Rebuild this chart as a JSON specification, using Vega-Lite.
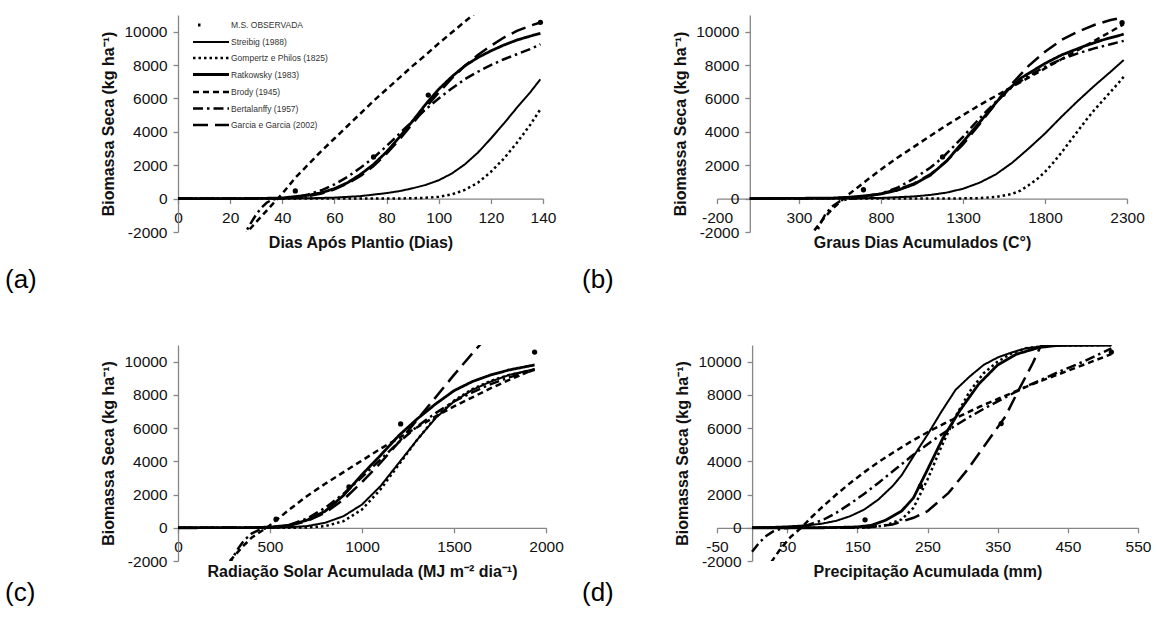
{
  "$schema": "https://vega.github.io/schema/vega-lite/v6.json",
  "padding": {"left": 5, "top": 15, "right": 0, "bottom": 0},
  "background": "white",
  "datasets": {
    "a": [
      {"s":"obs","x":45,"y":460},{"s":"obs","x":75,"y":2500},{"s":"obs","x":96,"y":6200},{"s":"obs","x":139,"y":10560},
      {"s":"str","x":0,"y":0},{"s":"str","x":40,"y":5},{"s":"str","x":50,"y":20},{"s":"str","x":60,"y":60},{"s":"str","x":70,"y":150},{"s":"str","x":80,"y":330},{"s":"str","x":85,"y":450},{"s":"str","x":90,"y":620},{"s":"str","x":95,"y":820},{"s":"str","x":100,"y":1100},{"s":"str","x":105,"y":1500},{"s":"str","x":110,"y":2050},{"s":"str","x":115,"y":2750},{"s":"str","x":120,"y":3600},{"s":"str","x":125,"y":4500},{"s":"str","x":130,"y":5450},{"s":"str","x":135,"y":6350},{"s":"str","x":139,"y":7150},
      {"s":"gom","x":0,"y":0},{"s":"gom","x":80,"y":0},{"s":"gom","x":90,"y":20},{"s":"gom","x":95,"y":50},{"s":"gom","x":100,"y":110},{"s":"gom","x":105,"y":250},{"s":"gom","x":110,"y":520},{"s":"gom","x":115,"y":950},{"s":"gom","x":120,"y":1600},{"s":"gom","x":125,"y":2400},{"s":"gom","x":130,"y":3350},{"s":"gom","x":135,"y":4400},{"s":"gom","x":139,"y":5350},
      {"s":"rat","x":0,"y":0},{"s":"rat","x":30,"y":5},{"s":"rat","x":40,"y":40},{"s":"rat","x":50,"y":200},{"s":"rat","x":55,"y":350},{"s":"rat","x":60,"y":600},{"s":"rat","x":65,"y":950},{"s":"rat","x":70,"y":1450},{"s":"rat","x":75,"y":2050},{"s":"rat","x":80,"y":2800},{"s":"rat","x":85,"y":3700},{"s":"rat","x":90,"y":4650},{"s":"rat","x":95,"y":5650},{"s":"rat","x":100,"y":6550},{"s":"rat","x":105,"y":7300},{"s":"rat","x":110,"y":7950},{"s":"rat","x":115,"y":8450},{"s":"rat","x":120,"y":8850},{"s":"rat","x":125,"y":9200},{"s":"rat","x":130,"y":9500},{"s":"rat","x":135,"y":9730},{"s":"rat","x":139,"y":9900},
      {"s":"bro","x":20,"y":-3200},{"s":"bro","x":26,"y":-2100},{"s":"bro","x":30,"y":-1400},{"s":"bro","x":35,"y":-550},{"s":"bro","x":40,"y":300},{"s":"bro","x":45,"y":1250},{"s":"bro","x":50,"y":2050},{"s":"bro","x":55,"y":2850},{"s":"bro","x":60,"y":3600},{"s":"bro","x":65,"y":4350},{"s":"bro","x":70,"y":5100},{"s":"bro","x":75,"y":5850},{"s":"bro","x":80,"y":6550},{"s":"bro","x":85,"y":7250},{"s":"bro","x":90,"y":7950},{"s":"bro","x":95,"y":8600},{"s":"bro","x":100,"y":9300},{"s":"bro","x":105,"y":9950},{"s":"bro","x":110,"y":10600},{"s":"bro","x":115,"y":11250},{"s":"bro","x":120,"y":11900},
      {"s":"ber","x":24,"y":-2600},{"s":"ber","x":26,"y":-2000},{"s":"ber","x":28,"y":-1450},{"s":"ber","x":30,"y":-950},{"s":"ber","x":32,"y":-550},{"s":"ber","x":34,"y":-250},{"s":"ber","x":36,"y":-70},{"s":"ber","x":38,"y":0},{"s":"ber","x":40,"y":10},{"s":"ber","x":45,"y":80},{"s":"ber","x":50,"y":250},{"s":"ber","x":55,"y":500},{"s":"ber","x":60,"y":850},{"s":"ber","x":65,"y":1300},{"s":"ber","x":70,"y":1850},{"s":"ber","x":75,"y":2450},{"s":"ber","x":80,"y":3150},{"s":"ber","x":85,"y":3900},{"s":"ber","x":90,"y":4650},{"s":"ber","x":95,"y":5350},{"s":"ber","x":100,"y":6000},{"s":"ber","x":105,"y":6600},{"s":"ber","x":110,"y":7150},{"s":"ber","x":115,"y":7600},{"s":"ber","x":120,"y":8000},{"s":"ber","x":125,"y":8350},{"s":"ber","x":130,"y":8650},{"s":"ber","x":135,"y":8950},{"s":"ber","x":139,"y":9250},
      {"s":"gar","x":0,"y":0},{"s":"gar","x":40,"y":20},{"s":"gar","x":50,"y":150},{"s":"gar","x":55,"y":300},{"s":"gar","x":60,"y":550},{"s":"gar","x":65,"y":900},{"s":"gar","x":70,"y":1350},{"s":"gar","x":75,"y":1950},{"s":"gar","x":80,"y":2700},{"s":"gar","x":85,"y":3550},{"s":"gar","x":90,"y":4500},{"s":"gar","x":95,"y":5450},{"s":"gar","x":100,"y":6350},{"s":"gar","x":105,"y":7200},{"s":"gar","x":110,"y":7950},{"s":"gar","x":115,"y":8600},{"s":"gar","x":120,"y":9150},{"s":"gar","x":125,"y":9650},{"s":"gar","x":130,"y":10050},{"s":"gar","x":135,"y":10350},{"s":"gar","x":139,"y":10550}
    ],
    "b": [
      {"s":"obs","x":693,"y":530},{"s":"obs","x":1175,"y":2500},{"s":"obs","x":1545,"y":6245},{"s":"obs","x":2270,"y":10540},
      {"s":"str","x":0,"y":0},{"s":"str","x":600,"y":10},{"s":"str","x":800,"y":40},{"s":"str","x":1000,"y":130},{"s":"str","x":1100,"y":220},{"s":"str","x":1200,"y":360},{"s":"str","x":1300,"y":590},{"s":"str","x":1400,"y":950},{"s":"str","x":1500,"y":1450},{"s":"str","x":1600,"y":2150},{"s":"str","x":1700,"y":3000},{"s":"str","x":1800,"y":3900},{"s":"str","x":1900,"y":4900},{"s":"str","x":2000,"y":5850},{"s":"str","x":2100,"y":6750},{"s":"str","x":2200,"y":7600},{"s":"str","x":2280,"y":8300},
      {"s":"gom","x":0,"y":0},{"s":"gom","x":1200,"y":0},{"s":"gom","x":1400,"y":30},{"s":"gom","x":1500,"y":100},{"s":"gom","x":1600,"y":280},{"s":"gom","x":1650,"y":480},{"s":"gom","x":1700,"y":800},{"s":"gom","x":1750,"y":1150},{"s":"gom","x":1800,"y":1600},{"s":"gom","x":1850,"y":2150},{"s":"gom","x":1900,"y":2750},{"s":"gom","x":1950,"y":3400},{"s":"gom","x":2000,"y":4050},{"s":"gom","x":2050,"y":4700},{"s":"gom","x":2100,"y":5300},{"s":"gom","x":2150,"y":5850},{"s":"gom","x":2200,"y":6400},{"s":"gom","x":2250,"y":6950},{"s":"gom","x":2280,"y":7300},
      {"s":"rat","x":0,"y":0},{"s":"rat","x":500,"y":30},{"s":"rat","x":600,"y":80},{"s":"rat","x":700,"y":160},{"s":"rat","x":800,"y":280},{"s":"rat","x":900,"y":500},{"s":"rat","x":1000,"y":850},{"s":"rat","x":1100,"y":1400},{"s":"rat","x":1200,"y":2250},{"s":"rat","x":1300,"y":3400},{"s":"rat","x":1425,"y":4850},{"s":"rat","x":1540,"y":6200},{"s":"rat","x":1650,"y":7200},{"s":"rat","x":1800,"y":8100},{"s":"rat","x":1900,"y":8600},{"s":"rat","x":2030,"y":9100},{"s":"rat","x":2150,"y":9500},{"s":"rat","x":2280,"y":9850},
      {"s":"bro","x":360,"y":-2400},{"s":"bro","x":380,"y":-2070},{"s":"bro","x":450,"y":-1200},{"s":"bro","x":500,"y":-650},{"s":"bro","x":550,"y":-200},{"s":"bro","x":573,"y":0},{"s":"bro","x":600,"y":230},{"s":"bro","x":700,"y":1000},{"s":"bro","x":800,"y":1750},{"s":"bro","x":900,"y":2450},{"s":"bro","x":1000,"y":3100},{"s":"bro","x":1100,"y":3750},{"s":"bro","x":1200,"y":4400},{"s":"bro","x":1300,"y":5000},{"s":"bro","x":1400,"y":5600},{"s":"bro","x":1500,"y":6150},{"s":"bro","x":1600,"y":6700},{"s":"bro","x":1700,"y":7250},{"s":"bro","x":1800,"y":7800},{"s":"bro","x":1900,"y":8350},{"s":"bro","x":2000,"y":8900},{"s":"bro","x":2100,"y":9450},{"s":"bro","x":2200,"y":10000},{"s":"bro","x":2280,"y":10450},
      {"s":"ber","x":380,"y":-2600},{"s":"ber","x":405,"y":-2100},{"s":"ber","x":430,"y":-1500},{"s":"ber","x":460,"y":-950},{"s":"ber","x":500,"y":-480},{"s":"ber","x":550,"y":-150},{"s":"ber","x":600,"y":-20},{"s":"ber","x":650,"y":20},{"s":"ber","x":700,"y":80},{"s":"ber","x":800,"y":300},{"s":"ber","x":900,"y":650},{"s":"ber","x":1000,"y":1200},{"s":"ber","x":1100,"y":1850},{"s":"ber","x":1175,"y":2450},{"s":"ber","x":1300,"y":3700},{"s":"ber","x":1400,"y":4800},{"s":"ber","x":1500,"y":5800},{"s":"ber","x":1600,"y":6700},{"s":"ber","x":1700,"y":7350},{"s":"ber","x":1800,"y":7900},{"s":"ber","x":1900,"y":8350},{"s":"ber","x":2000,"y":8700},{"s":"ber","x":2100,"y":9000},{"s":"ber","x":2200,"y":9250},{"s":"ber","x":2280,"y":9450},
      {"s":"gar","x":0,"y":0},{"s":"gar","x":500,"y":20},{"s":"gar","x":600,"y":60},{"s":"gar","x":700,"y":150},{"s":"gar","x":800,"y":300},{"s":"gar","x":900,"y":550},{"s":"gar","x":1000,"y":900},{"s":"gar","x":1100,"y":1450},{"s":"gar","x":1200,"y":2250},{"s":"gar","x":1300,"y":3250},{"s":"gar","x":1400,"y":4450},{"s":"gar","x":1500,"y":5700},{"s":"gar","x":1600,"y":6900},{"s":"gar","x":1700,"y":7950},{"s":"gar","x":1800,"y":8800},{"s":"gar","x":1900,"y":9500},{"s":"gar","x":2000,"y":10000},{"s":"gar","x":2100,"y":10400},{"s":"gar","x":2200,"y":10700},{"s":"gar","x":2280,"y":10850}
    ],
    "c": [
      {"s":"obs","x":533,"y":516},{"s":"obs","x":929,"y":2460},{"s":"obs","x":1210,"y":6250},{"s":"obs","x":1938,"y":10575},
      {"s":"str","x":0,"y":0},{"s":"str","x":500,"y":5},{"s":"str","x":600,"y":30},{"s":"str","x":700,"y":100},{"s":"str","x":800,"y":300},{"s":"str","x":900,"y":700},{"s":"str","x":1000,"y":1400},{"s":"str","x":1100,"y":2500},{"s":"str","x":1200,"y":3900},{"s":"str","x":1300,"y":5300},{"s":"str","x":1400,"y":6600},{"s":"str","x":1500,"y":7600},{"s":"str","x":1600,"y":8300},{"s":"str","x":1700,"y":8800},{"s":"str","x":1800,"y":9200},{"s":"str","x":1938,"y":9550},
      {"s":"gom","x":0,"y":0},{"s":"gom","x":600,"y":0},{"s":"gom","x":700,"y":20},{"s":"gom","x":800,"y":100},{"s":"gom","x":900,"y":400},{"s":"gom","x":1000,"y":1100},{"s":"gom","x":1100,"y":2300},{"s":"gom","x":1200,"y":3800},{"s":"gom","x":1300,"y":5300},{"s":"gom","x":1400,"y":6650},{"s":"gom","x":1500,"y":7650},{"s":"gom","x":1600,"y":8350},{"s":"gom","x":1700,"y":8850},{"s":"gom","x":1800,"y":9200},{"s":"gom","x":1938,"y":9500},
      {"s":"rat","x":0,"y":0},{"s":"rat","x":400,"y":10},{"s":"rat","x":500,"y":40},{"s":"rat","x":600,"y":150},{"s":"rat","x":700,"y":450},{"s":"rat","x":800,"y":1000},{"s":"rat","x":900,"y":1950},{"s":"rat","x":1000,"y":3200},{"s":"rat","x":1100,"y":4350},{"s":"rat","x":1200,"y":5550},{"s":"rat","x":1300,"y":6550},{"s":"rat","x":1400,"y":7450},{"s":"rat","x":1500,"y":8250},{"s":"rat","x":1600,"y":8800},{"s":"rat","x":1700,"y":9200},{"s":"rat","x":1800,"y":9500},{"s":"rat","x":1938,"y":9800},
      {"s":"bro","x":250,"y":-2500},{"s":"bro","x":277,"y":-2060},{"s":"bro","x":350,"y":-1150},{"s":"bro","x":400,"y":-600},{"s":"bro","x":450,"y":-220},{"s":"bro","x":482,"y":0},{"s":"bro","x":550,"y":600},{"s":"bro","x":600,"y":1050},{"s":"bro","x":700,"y":1900},{"s":"bro","x":800,"y":2650},{"s":"bro","x":900,"y":3350},{"s":"bro","x":1000,"y":4050},{"s":"bro","x":1100,"y":4750},{"s":"bro","x":1200,"y":5400},{"s":"bro","x":1300,"y":6050},{"s":"bro","x":1400,"y":6700},{"s":"bro","x":1500,"y":7300},{"s":"bro","x":1600,"y":7850},{"s":"bro","x":1700,"y":8400},{"s":"bro","x":1800,"y":8900},{"s":"bro","x":1938,"y":9550},
      {"s":"ber","x":270,"y":-2400},{"s":"ber","x":300,"y":-1750},{"s":"ber","x":330,"y":-1200},{"s":"ber","x":360,"y":-750},{"s":"ber","x":400,"y":-350},{"s":"ber","x":450,"y":-80},{"s":"ber","x":500,"y":0},{"s":"ber","x":550,"y":40},{"s":"ber","x":600,"y":150},{"s":"ber","x":700,"y":550},{"s":"ber","x":800,"y":1200},{"s":"ber","x":900,"y":2050},{"s":"ber","x":1000,"y":3050},{"s":"ber","x":1100,"y":4100},{"s":"ber","x":1200,"y":5150},{"s":"ber","x":1300,"y":6100},{"s":"ber","x":1400,"y":6900},{"s":"ber","x":1500,"y":7600},{"s":"ber","x":1600,"y":8150},{"s":"ber","x":1700,"y":8650},{"s":"ber","x":1800,"y":9050},{"s":"ber","x":1938,"y":9500},
      {"s":"gar","x":0,"y":0},{"s":"gar","x":500,"y":20},{"s":"gar","x":600,"y":120},{"s":"gar","x":700,"y":400},{"s":"gar","x":800,"y":900},{"s":"gar","x":900,"y":1700},{"s":"gar","x":1000,"y":2750},{"s":"gar","x":1100,"y":3900},{"s":"gar","x":1200,"y":5150},{"s":"gar","x":1300,"y":6500},{"s":"gar","x":1400,"y":7850},{"s":"gar","x":1500,"y":9200},{"s":"gar","x":1600,"y":10500},{"s":"gar","x":1680,"y":11500}
    ],
    "d": [
      {"s":"obs","x":161,"y":476},{"s":"obs","x":240,"y":2500},{"s":"obs","x":355,"y":6270},{"s":"obs","x":512,"y":10575},
      {"s":"str","x":0,"y":0},{"s":"str","x":50,"y":80},{"s":"str","x":80,"y":150},{"s":"str","x":100,"y":250},{"s":"str","x":120,"y":420},{"s":"str","x":140,"y":700},{"s":"str","x":160,"y":1100},{"s":"str","x":180,"y":1700},{"s":"str","x":200,"y":2500},{"s":"str","x":213,"y":3150},{"s":"str","x":230,"y":4300},{"s":"str","x":250,"y":5600},{"s":"str","x":270,"y":7000},{"s":"str","x":290,"y":8300},{"s":"str","x":310,"y":9100},{"s":"str","x":330,"y":9800},{"s":"str","x":350,"y":10250},{"s":"str","x":370,"y":10550},{"s":"str","x":390,"y":10800},{"s":"str","x":420,"y":10950},{"s":"str","x":512,"y":11000},
      {"s":"rat","x":0,"y":0},{"s":"rat","x":100,"y":0},{"s":"rat","x":150,"y":50},{"s":"rat","x":170,"y":150},{"s":"rat","x":190,"y":450},{"s":"rat","x":213,"y":1000},{"s":"rat","x":230,"y":1800},{"s":"rat","x":250,"y":3500},{"s":"rat","x":272,"y":5400},{"s":"rat","x":296,"y":7050},{"s":"rat","x":323,"y":8650},{"s":"rat","x":350,"y":9800},{"s":"rat","x":377,"y":10450},{"s":"rat","x":409,"y":10850},{"s":"rat","x":441,"y":11000},{"s":"rat","x":512,"y":11000},
      {"s":"gom","x":0,"y":0},{"s":"gom","x":150,"y":0},{"s":"gom","x":170,"y":30},{"s":"gom","x":190,"y":150},{"s":"gom","x":213,"y":500},{"s":"gom","x":230,"y":1200},{"s":"gom","x":250,"y":2900},{"s":"gom","x":270,"y":4900},{"s":"gom","x":290,"y":6700},{"s":"gom","x":310,"y":8200},{"s":"gom","x":330,"y":9300},{"s":"gom","x":350,"y":10000},{"s":"gom","x":370,"y":10500},{"s":"gom","x":390,"y":10800},{"s":"gom","x":420,"y":10950},{"s":"gom","x":512,"y":11000},
      {"s":"gar","x":0,"y":0},{"s":"gar","x":150,"y":0},{"s":"gar","x":170,"y":50},{"s":"gar","x":200,"y":200},{"s":"gar","x":230,"y":600},{"s":"gar","x":250,"y":1000},{"s":"gar","x":280,"y":2100},{"s":"gar","x":307,"y":3500},{"s":"gar","x":334,"y":5100},{"s":"gar","x":361,"y":6700},{"s":"gar","x":380,"y":8300},{"s":"gar","x":400,"y":9900},{"s":"gar","x":412,"y":11000},{"s":"gar","x":512,"y":11000},
      {"s":"bro","x":20,"y":-2600},{"s":"bro","x":28,"y":-2020},{"s":"bro","x":40,"y":-1300},{"s":"bro","x":55,"y":-550},{"s":"bro","x":70,"y":0},{"s":"bro","x":85,"y":650},{"s":"bro","x":100,"y":1250},{"s":"bro","x":120,"y":2000},{"s":"bro","x":140,"y":2700},{"s":"bro","x":160,"y":3350},{"s":"bro","x":180,"y":3950},{"s":"bro","x":200,"y":4500},{"s":"bro","x":225,"y":5150},{"s":"bro","x":250,"y":5750},{"s":"bro","x":275,"y":6300},{"s":"bro","x":300,"y":6800},{"s":"bro","x":325,"y":7300},{"s":"bro","x":350,"y":7750},{"s":"bro","x":375,"y":8200},{"s":"bro","x":400,"y":8650},{"s":"bro","x":425,"y":9050},{"s":"bro","x":450,"y":9450},{"s":"bro","x":475,"y":9850},{"s":"bro","x":512,"y":10450},
      {"s":"ber","x":0,"y":-1450},{"s":"ber","x":10,"y":-900},{"s":"ber","x":20,"y":-500},{"s":"ber","x":30,"y":-220},{"s":"ber","x":40,"y":-70},{"s":"ber","x":50,"y":-10},{"s":"ber","x":60,"y":10},{"s":"ber","x":75,"y":100},{"s":"ber","x":100,"y":450},{"s":"ber","x":120,"y":900},{"s":"ber","x":140,"y":1450},{"s":"ber","x":160,"y":2050},{"s":"ber","x":180,"y":2700},{"s":"ber","x":205,"y":3550},{"s":"ber","x":227,"y":4300},{"s":"ber","x":254,"y":5150},{"s":"ber","x":280,"y":5900},{"s":"ber","x":307,"y":6600},{"s":"ber","x":334,"y":7250},{"s":"ber","x":361,"y":7850},{"s":"ber","x":388,"y":8450},{"s":"ber","x":414,"y":8950},{"s":"ber","x":441,"y":9450},{"s":"ber","x":475,"y":10050},{"s":"ber","x":512,"y":10800}
    ]
  },
  "columns": 2,
  "spacing": {"row": 113, "column": 171},
  "bounds": "flush",
  "resolve": {"scale": {"strokeDash": "independent", "strokeWidth": "independent"}, "legend": {"strokeDash": "independent", "strokeWidth": "independent"}},
  "concat": [
    {
      "width": 365, "height": 217,
      "data": {"name": "a"},
      "title": {"text": "(a)", "orient": "bottom", "anchor": "start", "frame": "group", "dx": -173, "offset": 17},
      "layer": [
        {
          "transform": [{"filter": "datum.s !== 'obs'"}],
          "mark": {"type": "line", "clip": true, "color": "black", "strokeCap": "butt"},
          "encoding": {
            "x": {"field": "x", "type": "quantitative", "title": "Dias Após Plantio (Dias)", "scale": {"domain": [0, 140], "nice": false, "zero": false}, "axis": {"values": [0,20,40,60,80,100,120,140], "tickCount": 20, "offset": -33.4}},
            "y": {"field": "y", "type": "quantitative", "title": "Biomassa Seca (kg ha⁻¹)", "scale": {"domain": [-2000, 11000], "nice": false, "zero": false}, "axis": {"values": [-2000,0,2000,4000,6000,8000,10000], "tickCount": 20}},
            "strokeDash": {"field": "s", "type": "nominal", "scale": {"domain": ["obs","str","gom","rat","bro","ber","gar"], "range": [[0,5,2.5,100],[1,0],[2.5,3],[1,0],[6,4],[10,4,2.5,4],[15,7]]},
              "legend": {"orient": "none", "legendX": 27, "legendY": 4, "title": null, "symbolType": "M-4,0H4", "symbolSize": 81, "symbolStrokeColor": "black", "labelFontSize": 8.5, "labelColor": "#333", "labelOffset": 14, "rowPadding": 5.5,
                "labelExpr": "{'obs':'M.S. OBSERVADA','str':'Streibig (1988)','gom':'Gompertz e Philos (1825)','rat':'Ratkowsky (1983)','bro':'Brody (1945)','ber':'Bertalanffy (1957)','gar':'Garcia e Garcia (2002)'}[datum.label]"}},
            "strokeWidth": {"field": "s", "type": "nominal", "scale": {"type": "ordinal", "domain": ["obs","str","gom","rat","bro","ber","gar"], "range": [3, 2, 2.5, 2.8, 2.5, 2.5, 2.5]},
              "legend": {"orient": "none", "legendX": 27, "legendY": 4, "title": null, "symbolType": "M-4,0H4", "symbolSize": 81, "symbolStrokeColor": "black", "labelFontSize": 8.5, "labelColor": "#333", "labelOffset": 14, "rowPadding": 5.5,
                "labelExpr": "{'obs':'M.S. OBSERVADA','str':'Streibig (1988)','gom':'Gompertz e Philos (1825)','rat':'Ratkowsky (1983)','bro':'Brody (1945)','ber':'Bertalanffy (1957)','gar':'Garcia e Garcia (2002)'}[datum.label]"}}
          }
        },
        {
          "transform": [{"filter": "datum.s === 'obs'"}],
          "mark": {"type": "point", "filled": true, "color": "black", "size": 28, "opacity": 1},
          "encoding": {
            "x": {"field": "x", "type": "quantitative"},
            "y": {"field": "y", "type": "quantitative"}
          }
        }
      ]
    },
    {
      "width": 410, "height": 217,
      "data": {"name": "b"},
      "title": {"text": "(b)", "orient": "bottom", "anchor": "start", "frame": "group", "dx": -135, "offset": 17},
      "layer": [
        {
          "transform": [{"filter": "datum.s !== 'obs'"}],
          "mark": {"type": "line", "clip": true, "color": "black", "strokeCap": "butt"},
          "encoding": {
            "x": {"field": "x", "type": "quantitative", "title": "Graus Dias Acumulados (C°)", "scale": {"domain": [-200, 2300], "nice": false, "zero": false}, "axis": {"values": [-200,300,800,1300,1800,2300], "tickCount": 20, "offset": -33.4}},
            "y": {"field": "y", "type": "quantitative", "title": "Biomassa Seca (kg ha⁻¹)", "scale": {"domain": [-2000, 11000], "nice": false, "zero": false}, "axis": {"values": [-2000,0,2000,4000,6000,8000,10000], "tickCount": 20, "offset": -32.8}},
            "strokeDash": {"field": "s", "type": "nominal", "legend": null, "scale": {"domain": ["obs","str","gom","rat","bro","ber","gar"], "range": [[0,5,2.5,100],[1,0],[2.5,3],[1,0],[6,4],[10,4,2.5,4],[15,7]]}},
            "strokeWidth": {"field": "s", "type": "nominal", "legend": null, "scale": {"type": "ordinal", "domain": ["obs","str","gom","rat","bro","ber","gar"], "range": [3, 2, 2.5, 2.8, 2.5, 2.5, 2.5]}}
          }
        },
        {
          "transform": [{"filter": "datum.s === 'obs'"}],
          "mark": {"type": "point", "filled": true, "color": "black", "size": 28, "opacity": 1},
          "encoding": {
            "x": {"field": "x", "type": "quantitative"},
            "y": {"field": "y", "type": "quantitative"}
          }
        }
      ]
    },
    {
      "width": 368, "height": 216,
      "data": {"name": "c"},
      "title": {"text": "(c)", "orient": "bottom", "anchor": "start", "frame": "group", "dx": -173, "offset": 1},
      "layer": [
        {
          "transform": [{"filter": "datum.s !== 'obs'"}],
          "mark": {"type": "line", "clip": true, "color": "black", "strokeCap": "butt"},
          "encoding": {
            "x": {"field": "x", "type": "quantitative", "title": "Radiação Solar Acumulada (MJ m⁻² dia⁻¹)", "scale": {"domain": [0, 2000], "nice": false, "zero": false}, "axis": {"values": [0,500,1000,1500,2000], "tickCount": 20, "offset": -33.2}},
            "y": {"field": "y", "type": "quantitative", "title": "Biomassa Seca (kg ha⁻¹)", "scale": {"domain": [-2000, 11000], "nice": false, "zero": false}, "axis": {"values": [-2000,0,2000,4000,6000,8000,10000], "tickCount": 20}},
            "strokeDash": {"field": "s", "type": "nominal", "legend": null, "scale": {"domain": ["obs","str","gom","rat","bro","ber","gar"], "range": [[0,5,2.5,100],[1,0],[2.5,3],[1,0],[6,4],[10,4,2.5,4],[15,7]]}},
            "strokeWidth": {"field": "s", "type": "nominal", "legend": null, "scale": {"type": "ordinal", "domain": ["obs","str","gom","rat","bro","ber","gar"], "range": [3, 2, 2.5, 2.8, 2.5, 2.5, 2.5]}}
          }
        },
        {
          "transform": [{"filter": "datum.s === 'obs'"}],
          "mark": {"type": "point", "filled": true, "color": "black", "size": 28, "opacity": 1},
          "encoding": {
            "x": {"field": "x", "type": "quantitative"},
            "y": {"field": "y", "type": "quantitative"}
          }
        }
      ]
    },
    {
      "width": 421, "height": 216,
      "data": {"name": "d"},
      "title": {"text": "(d)", "orient": "bottom", "anchor": "start", "frame": "group", "dx": -135, "offset": 1},
      "layer": [
        {
          "transform": [{"filter": "datum.s !== 'obs'"}],
          "mark": {"type": "line", "clip": true, "color": "black", "strokeCap": "butt"},
          "encoding": {
            "x": {"field": "x", "type": "quantitative", "title": "Precipitação Acumulada (mm)", "scale": {"domain": [-50, 550], "nice": false, "zero": false}, "axis": {"values": [-50,50,150,250,350,450,550], "tickCount": 20, "offset": -33.2}},
            "y": {"field": "y", "type": "quantitative", "title": "Biomassa Seca (kg ha⁻¹)", "scale": {"domain": [-2000, 11000], "nice": false, "zero": false}, "axis": {"values": [-2000,0,2000,4000,6000,8000,10000], "tickCount": 20, "offset": -35.1}},
            "strokeDash": {"field": "s", "type": "nominal", "legend": null, "scale": {"domain": ["obs","str","gom","rat","bro","ber","gar"], "range": [[0,5,2.5,100],[1,0],[2.5,3],[1,0],[6,4],[10,4,2.5,4],[15,7]]}},
            "strokeWidth": {"field": "s", "type": "nominal", "legend": null, "scale": {"type": "ordinal", "domain": ["obs","str","gom","rat","bro","ber","gar"], "range": [3, 2, 2.5, 2.8, 2.5, 2.5, 2.5]}}
          }
        },
        {
          "transform": [{"filter": "datum.s === 'obs'"}],
          "mark": {"type": "point", "filled": true, "color": "black", "size": 28, "opacity": 1},
          "encoding": {
            "x": {"field": "x", "type": "quantitative"},
            "y": {"field": "y", "type": "quantitative"}
          }
        }
      ]
    }
  ],
  "config": {
    "font": "Liberation Sans",
    "view": {"stroke": null},
    "title": {"fontSize": 26, "fontWeight": "normal", "color": "black", "font": "Liberation Sans"},
    "axis": {
      "grid": false, "domainColor": "#868686", "tickColor": "#868686", "domainWidth": 1.3, "tickWidth": 1.3, "tickSize": 5,
      "labelFont": "Liberation Sans", "labelFontSize": 15.5, "labelColor": "#111", "labelPadding": 6, "labelFlush": false, "labelOverlap": false, "labelExpr": "'' + datum.value",
      "titleFont": "Liberation Sans", "titleFontSize": 16, "titleFontWeight": "bold", "titleColor": "#111"
    },
    "axisX": {"titlePadding": 8, "labelPadding": 7},
    "axisY": {"titlePadding": 7, "labelPadding": 6}
  }
}
